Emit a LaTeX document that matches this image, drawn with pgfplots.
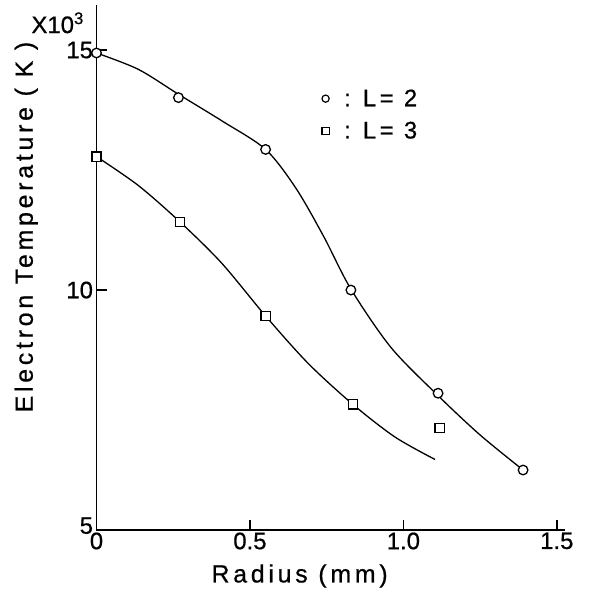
\documentclass[border=0pt]{standalone}
\usepackage{pgfplots}
\pgfplotsset{compat=1.18}
\usepackage{fontspec}
\setmainfont[FakeBold=0.6]{Liberation Sans}
\newfontfamily\spaced[LetterSpace=15, FakeBold=0.6]{Liberation Sans}

\begin{document}
\begin{tikzpicture}[font=\fontsize{24}{28}\selectfont]
\begin{axis}[
  at={(0,0)}, anchor=south west,
  scale only axis, width=468bp, height=525bp,
  xmin=0, xmax=1.525, ymin=5, ymax=15.94,
  clip=false,
  axis x line=bottom, axis y line=left,
  axis line style={-, line width=1.6bp},
  tick align=inside, major tick length=10bp,
  tick style={line width=1.6bp, black},
  xtick={0,0.5,1,1.5}, xticklabels={0,0.5,1.0,1.5},
  ytick={5,10,15}, yticklabels={\raisebox{9bp}{5},10,15},
  /pgf/number format/assume math mode=true,
  ticklabel style={font=\fontsize{24}{28}\selectfont},
  xticklabel style={yshift=1bp},
  xlabel={\spaced Radius (mm)},
  ylabel={\spaced Electron Temperature ( K )},
  label style={font=\fontsize{25}{29}\selectfont},
  xlabel style={at={(axis description cs:0.434,0)}, anchor=center, yshift=-46bp},
  ylabel style={at={(axis description cs:-0.150,0.577)}, anchor=center, rotate=0},
  legend style={draw=none, fill=none, at={(axis description cs:0.475,0.845)},
    anchor=north west, row sep=12bp, font=\fontsize{24}{28}\selectfont,
    nodes={inner sep=1bp}},
  legend cell align=left,
  legend image code/.code={\draw[#1] plot coordinates {(0.2cm,0cm)};},
]
% legend keys
\addlegendimage{only marks, mark=o, mark size=3.6bp, line width=1.2bp, black}
\addlegendentry{\hspace{14bp}:\hspace{12bp}{\spaced L= 2}}
\addlegendimage{only marks, mark=square, mark size=3.6bp, line width=1.2bp, black}
\addlegendentry{\hspace{14bp}:\hspace{12bp}{\spaced L= 3}}

% fitted curve, L = 2
\addplot[smooth, line width=1.3bp, black] coordinates {
  (0,14.94) (0.136,14.6) (0.267,14.08) (0.41,13.52) (0.551,12.93)
  (0.65,12.12) (0.74,11.12) (0.829,10.02) (0.96,8.8) (1.113,7.8)
  (1.25,6.98) (1.39,6.25)};
% fitted curve, L = 3
\addplot[smooth, line width=1.3bp, black] coordinates {
  (0,12.78) (0.136,12.18) (0.272,11.42) (0.408,10.56) (0.551,9.46)
  (0.69,8.47) (0.835,7.62) (0.972,6.94) (1.103,6.47)};

% measured points, L = 2
\addplot[only marks, mark=*, mark size=4.8bp, line width=1.3bp,
  mark options={fill=white, draw=black}] coordinates {
  (0,14.94) (0.267,14.01) (0.551,12.93) (0.829,10.0) (1.113,7.85) (1.39,6.25)};
% measured points, L = 3
\addplot[only marks, mark=square*, mark size=4.6bp, line width=1.3bp,
  mark options={fill=white, draw=black}] coordinates {
  (0,12.78) (0.272,11.42) (0.551,9.46) (0.835,7.62) (1.118,7.13)};

\node[anchor=center, font=\fontsize{24}{28}\selectfont]
  at (axis description cs:-0.083,0.966) {X10\textsuperscript{3}};
\end{axis}
\pgfresetboundingbox
\path[use as bounding box] (-96.5bp,-62bp) rectangle (494.5bp,530bp);
\end{tikzpicture}
\end{document}
